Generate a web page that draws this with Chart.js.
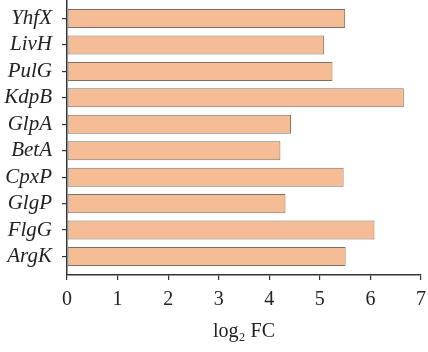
<!DOCTYPE html>
<html>
<head>
<meta charset="utf-8">
<script src="https://cdn.jsdelivr.net/npm/chart.js@4"></script>
<style>
  html, body { margin: 0; padding: 0; background: #fff; }
  #wrap { width: 428px; height: 352px; }
</style>
</head>
<body>
<div id="wrap"><canvas id="fcChart"></canvas></div>
<script>
const genes = ["YhfX", "LivH", "PulG", "KdpB", "GlpA", "BetA", "CpxP", "GlgP", "FlgG", "ArgK"];
const log2fc = [5.50, 5.08, 5.25, 6.66, 4.43, 4.22, 5.47, 4.32, 6.08, 5.51];
const xTicks = [0, 1, 2, 3, 4, 5, 6, 7];

const axisColor = "#333333";

const ctxFc = document.getElementById("fcChart").getContext("2d");
new Chart(ctxFc, {
    type: "bar",
    data: {
        datasets: [{
            data: log2fc.map((v, i) => ({ x: v, y: i })),
            backgroundColor: "#F5BD95",
            borderColor: "#7d6f68",
            borderWidth: 1,
            borderSkipped: false,
            barPercentage: 0.72,
            categoryPercentage: 1
        }]
    },
    options: {
        indexAxis: "y",
        responsive: true,
        maintainAspectRatio: false,
        animation: false,
        layout: { padding: { top: 0, right: 7, bottom: 0, left: 0 } },
        plugins: {
            legend: { display: false },
            tooltip: { enabled: false }
        },
        scales: {
            x: {
                type: "linear",
                bounds: "data",
                min: xTicks[0],
                max: xTicks[xTicks.length - 1],
                afterBuildTicks: (scale) => { scale.ticks = xTicks.map(v => ({ value: v })); },
                afterFit: (scale) => { scale.height = 77; scale.paddingLeft = 0; scale.paddingRight = 0; },
                grid: { drawOnChartArea: false, tickLength: 5, color: axisColor, lineWidth: 1.2 },
                border: { color: axisColor, width: 1.5 },
                ticks: {
                    autoSkip: false,
                    padding: 8,
                    color: "#222",
                    font: { family: "'Liberation Serif', serif", size: 20 }
                },
                title: {
                    display: true,
                    text: "log₂ FC",
                    color: "#222",
                    font: { family: "'Liberation Serif', serif", size: 20 },
                    padding: { top: 0, bottom: 8 }
                }
            },
            y: {
                type: "linear",
                bounds: "data",
                offset: false,
                reverse: true,
                min: -0.7,
                max: genes.length - 0.3,
                afterBuildTicks: (scale) => { scale.ticks = genes.map((g, i) => ({ value: i })); },
                afterFit: (scale) => { scale.width = 67; scale.paddingTop = 0; scale.paddingBottom = 0; },
                grid: { offset: false, drawOnChartArea: false, tickLength: 5, color: axisColor, lineWidth: 1.2 },
                border: { color: axisColor, width: 1.5 },
                ticks: {
                    autoSkip: false,
                    padding: 10,
                    color: "#222",
                    font: { family: "'Liberation Serif', serif", size: 21, style: "italic" },
                    callback: (value) => genes[value]
                }
            }
        }
    }
});
</script>
</body>
</html>
